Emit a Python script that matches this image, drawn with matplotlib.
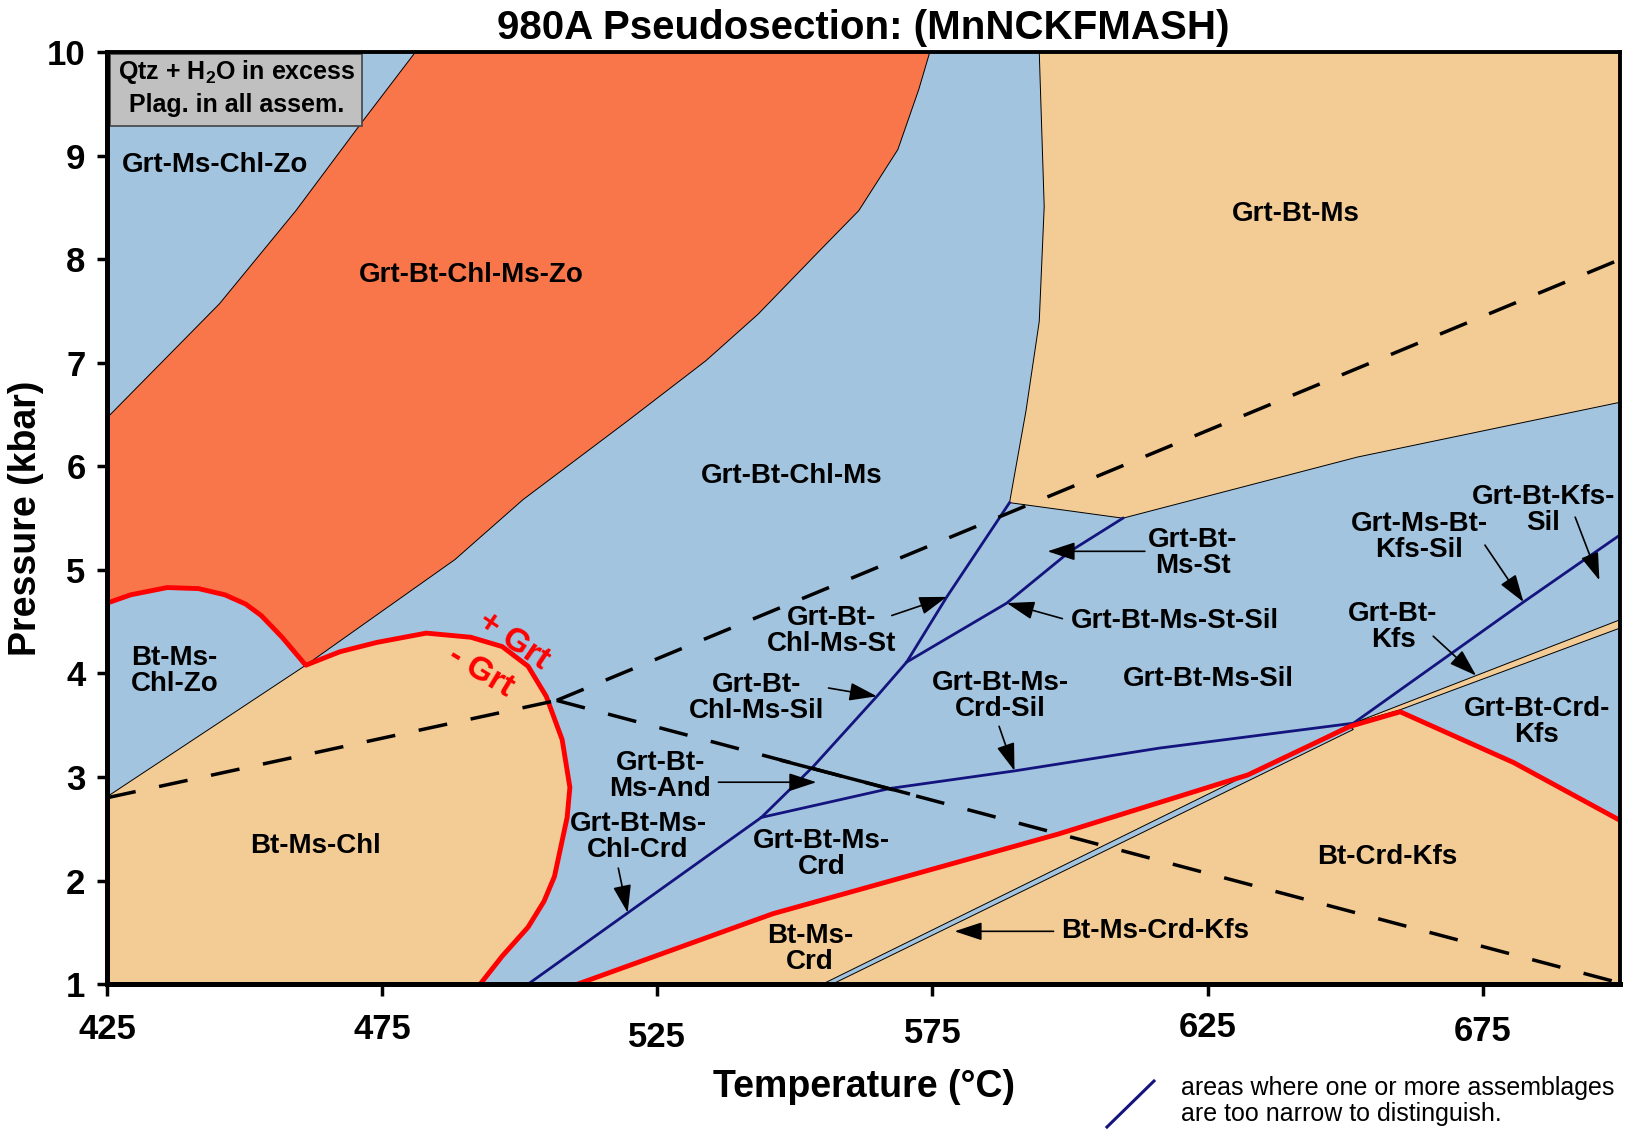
import numpy as np
import matplotlib.pyplot as plt
from matplotlib.patches import Polygon, Rectangle
from matplotlib.lines import Line2D
from matplotlib.transforms import ScaledTranslation

plt.rcParams['font.family'] = ['Liberation Sans', 'DejaVu Sans']
plt.rcParams['mathtext.fontset'] = 'custom'
plt.rcParams['mathtext.rm'] = 'Liberation Sans:bold'
plt.rcParams['mathtext.bf'] = 'Liberation Sans:bold'

BLUE = '#A3C4DF'
TAN = '#F3CB95'
ORANGE = '#F8764A'
NAVY = '#14147E'
RED = '#FF0000'

# --- phase boundaries, T in degC, P in kbar ---
zo_out_T = [425, 445.4, 459.3, 471.1, 481.0]
zo_out_P = [6.47, 7.57, 8.47, 9.31, 10.0]

chl_out_T = [574.5, 572.5, 568.7, 561.6, 554.6, 543.3, 533.8, 519.6, 500.6, 488.2, 461.1]
chl_out_P = [10.0, 9.64, 9.06, 8.47, 8.09, 7.47, 7.02, 6.44, 5.68, 5.10, 4.08]

zo_red_T = [425, 429.3, 435.9, 441.6, 446.4, 450.2, 453.0, 456.8, 461.1]
zo_red_P = [4.68, 4.76, 4.83, 4.82, 4.76, 4.67, 4.56, 4.35, 4.08]

grt_in_T = [461.1, 467.3, 474.0, 483.0, 491.1, 496.8, 501.5, 504.8, 507.7, 509.1,
            508.6, 506.3, 504.4, 501.5, 496.8, 492.8]
grt_in_P = [4.08, 4.21, 4.30, 4.39, 4.35, 4.26, 4.07, 3.78, 3.36, 2.90,
            2.61, 2.04, 1.80, 1.55, 1.27, 1.0]

gbm_T = [594.4, 700, 700, 652.2, 609.6, 589.0, 592.0, 594.4, 595.3]
gbm_P = [10.0, 10.0, 6.62, 6.09, 5.50, 5.65, 6.54, 7.40, 8.51]

grt_hi_T = [510.5, 546.0, 597.9, 632.3, 650.9, 660.0, 680.6, 700]
grt_hi_P = [1.0, 1.68, 2.45, 3.02, 3.49, 3.63, 3.14, 2.58]

crd_kfs_band_T = [555.0, 650.5, 651.5, 556.8]
crd_kfs_band_P = [1.0, 3.50, 3.46, 1.0]

bt_kfs_band_T = [651.5, 700, 700, 660.0]
bt_kfs_band_P = [3.52, 4.52, 4.44, 3.65]

# narrow fields (navy)
navy_a_T = [501.5, 543.9, 553.3, 564.9, 570.3, 577.6, 589.0]
navy_a_P = [1.0, 2.61, 3.10, 3.78, 4.11, 4.74, 5.65]
navy_st_T = [570.3, 580.2, 588.5, 600.0, 609.6]
navy_st_P = [4.11, 4.42, 4.68, 5.18, 5.50]
navy_sil_T = [543.9, 567.3, 590.0, 616.3, 651.5]
navy_sil_P = [2.61, 2.89, 3.06, 3.28, 3.52]
navy_kfs_T = [651.5, 682.4, 700]
navy_kfs_P = [3.52, 4.69, 5.34]

# Al2SiO5 triple point lines
dash_low_T = [425, 506.7]
dash_low_P = [2.80, 3.74]
dash_up_T = [506.7, 700]
dash_up_P = [3.74, 8.00]
dash_dn_T = [506.7, 700]
dash_dn_P = [3.74, 1.01]
solid_seg_T = [547.6, 570.6]
solid_seg_P = [3.16, 2.84]

field_labels = [
    ('Grt-Ms-Chl-Zo', 444.7, 8.91),
    ('Grt-Bt-Chl-Ms-Zo', 491.2, 7.85),
    ('Grt-Bt-Chl-Ms', 549.5, 5.91),
    ('Grt-Bt-Ms', 641.0, 8.44),
    ('Bt-Ms-\nChl-Zo', 437.2, 4.02),
    ('Bt-Ms-Chl', 462.9, 2.33),
    ('Grt-Bt-\nChl-Ms-St', 556.7, 4.41),
    ('Grt-Bt-\nChl-Ms-Sil', 543.0, 3.76),
    ('Grt-Bt-\nMs-And', 525.5, 3.01),
    ('Grt-Bt-Ms-\nChl-Crd', 521.5, 2.42),
    ('Grt-Bt-Ms-\nCrd', 554.8, 2.26),
    ('Grt-Bt-Ms-\nCrd-Sil', 587.3, 3.78),
    ('Grt-Bt-Ms-St-Sil', 619.1, 4.51),
    ('Grt-Bt-\nMs-St', 622.3, 5.16),
    ('Grt-Bt-Ms-Sil', 625.2, 3.95),
    ('Grt-Ms-Bt-\nKfs-Sil', 663.5, 5.32),
    ('Grt-Bt-Kfs-\nSil', 686.0, 5.58),
    ('Grt-Bt-\nKfs', 658.7, 4.45),
    ('Grt-Bt-Crd-\nKfs', 684.8, 3.53),
    ('Bt-Crd-Kfs', 657.6, 2.23),
    ('Bt-Ms-Crd-Kfs', 615.4, 1.51),
    ('Bt-Ms-\nCrd', 552.7, 1.34),
]

# pointer arrows: tail -> head
arrow_tails = [(567.6, 4.56), (556.1, 3.86), (536.1, 2.95), (517.9, 2.12), (587.1, 3.49),
               (598.6, 4.53), (613.6, 5.18), (675.4, 5.24), (691.8, 5.51), (666.0, 4.36),
               (597.0, 1.51)]
arrow_heads = [(577.6, 4.74), (564.9, 3.78), (553.9, 2.95), (519.6, 1.69), (589.9, 3.06),
               (588.5, 4.68), (595.9, 5.18), (682.4, 4.69), (696.2, 4.90), (673.8, 3.98),
               (579.0, 1.51)]

t_ticks = [425, 475, 525, 575, 625, 675]
p_ticks = [1, 2, 3, 4, 5, 6, 7, 8, 9, 10]

fig = plt.figure(figsize=(16.38, 11.36), dpi=100)
ax = fig.add_axes([0.0654, 0.1337, 0.9238, 0.8203])
ax.set_xlim(425, 700)
ax.set_ylim(1, 10)
ax.set_facecolor(BLUE)


def field(T, P, color, z=1):
    ax.add_patch(Polygon(np.column_stack([T, P]), closed=True, facecolor=color,
                         edgecolor='black', linewidth=0.7, zorder=z))


# orange Zo field
orange_T = [425] + zo_out_T + chl_out_T + zo_red_T[::-1]
orange_P = [4.68] + zo_out_P + chl_out_P + zo_red_P[::-1]
field(orange_T, orange_P, ORANGE)

# Bt-Ms-Chl
bmc_T = [425, 425] + grt_in_T
bmc_P = [1.0, 2.81] + grt_in_P
field(bmc_T, bmc_P, TAN)

field(gbm_T, gbm_P, TAN)
field(grt_hi_T + [700], grt_hi_P + [1.0], TAN)
field(crd_kfs_band_T, crd_kfs_band_P, BLUE, z=2)
field(bt_kfs_band_T, bt_kfs_band_P, TAN, z=2)

for T, P in [(navy_a_T, navy_a_P), (navy_st_T, navy_st_P),
             (navy_sil_T, navy_sil_P), (navy_kfs_T, navy_kfs_P)]:
    ax.plot(T, P, color=NAVY, lw=2.0, zorder=3)

# garnet-in
ax.plot(zo_red_T + grt_in_T[1:], zo_red_P + grt_in_P[1:], color=RED, lw=3.5,
        solid_joinstyle='round', zorder=4)
ax.plot(grt_hi_T, grt_hi_P, color=RED, lw=3.5, solid_joinstyle='miter', zorder=4)

for T, P in [(dash_low_T, dash_low_P), (dash_up_T, dash_up_P), (dash_dn_T, dash_dn_P)]:
    ax.plot(T, P, color='black', lw=2.5, linestyle=(0, (8.4, 6.9)), zorder=4.5)
ax.plot(solid_seg_T, solid_seg_P, color='black', lw=2.5, zorder=4.5)

for s, t, p in field_labels:
    ax.text(t, p, s, ha='center', va='center', fontsize=20, fontweight='bold',
            linespacing=1.0, zorder=6)

for tail, head in zip(arrow_tails, arrow_heads):
    ax.annotate('', xy=head, xytext=tail,
                arrowprops=dict(arrowstyle='-|>,head_length=0.85,head_width=0.28',
                                color='black', lw=1.2, mutation_scale=20,
                                shrinkA=0, shrinkB=0), zorder=5)

ax.text(498.8, 4.31, '+ Grt', color=RED, fontsize=24, fontweight='bold',
        rotation=-34, ha='center', va='center', rotation_mode='anchor', zorder=6)
ax.text(492.8, 4.02, '- Grt', color=RED, fontsize=24, fontweight='bold',
        rotation=-31, ha='center', va='center', rotation_mode='anchor', zorder=6)

# note box
ax.add_patch(Rectangle((425.5, 9.29), 45.9, 0.69, facecolor='#C0C0C0',
                       edgecolor='#444444', lw=1.2, zorder=6))
ax.text(448.5, 9.81, r'Qtz + H$_2$O in excess', ha='center', va='center',
        fontsize=18, fontweight='bold', zorder=7)
ax.text(448.5, 9.49, 'Plag. in all assem.', ha='center', va='center',
        fontsize=18, fontweight='bold', zorder=7)

# axes styling
for side in ['left', 'bottom']:
    ax.spines[side].set_linewidth(3.6)
for side in ['top', 'right']:
    ax.spines[side].set_linewidth(2.8)
for sp in ax.spines.values():
    sp.set_zorder(8)

ax.set_xticks(t_ticks)
ax.set_xticklabels([str(t) for t in t_ticks])
ax.set_yticks(p_ticks)
ax.set_yticklabels([str(p) for p in p_ticks])
ax.tick_params(axis='x', direction='out', length=8.5, width=2.5, pad=12,
               labelsize=25)
ax.tick_params(axis='y', direction='out', length=7.5, width=2.5, pad=8,
               labelsize=25)
for lab in ax.get_xticklabels() + ax.get_yticklabels():
    lab.set_fontweight('bold')

# 525 and 575 sit a little lower
x_label_drop = [0, 0, 6, 3, -1, 1.5]
for lab, dy in zip(ax.get_xticklabels(), x_label_drop):
    lab.set_transform(lab.get_transform() +
                      ScaledTranslation(0, -dy / 72, fig.dpi_scale_trans))

ax.set_xlabel('Temperature (°C)', fontsize=27, fontweight='bold')
ax.xaxis.set_label_coords(0.5, -0.110)
ax.xaxis.label.set_va('center')
ax.set_ylabel('Pressure (kbar)', fontsize=27, fontweight='bold')
ax.yaxis.set_label_coords(-0.0537, 0.5)
ax.yaxis.label.set_va('center')

ax.set_title('980A Pseudosection: (MnNCKFMASH)', fontsize=29, fontweight='bold',
             pad=9.5)

# legend note
fig.add_artist(Line2D([0.6758, 0.7045], [0.0079, 0.0484], transform=fig.transFigure,
                      color=NAVY, lw=2.2))
fig.text(0.7212, 0.0423, 'areas where one or more assemblages', fontsize=18,
         ha='left', va='center')
fig.text(0.7212, 0.0194, 'are too narrow to distinguish.', fontsize=18,
         ha='left', va='center')

fig.savefig('out.png', dpi=100)
